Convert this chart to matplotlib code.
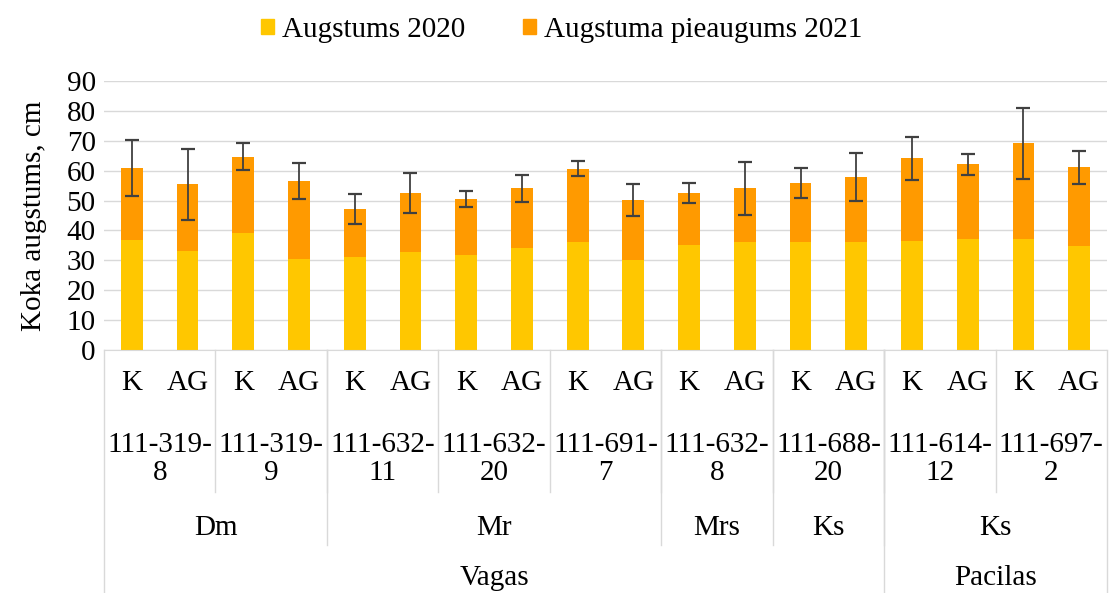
import numpy as np
import matplotlib.pyplot as plt
import matplotlib.transforms as mtransforms
from matplotlib.patches import Patch

# bar labels (level 1) and groupings
treatments = ["K", "AG"] * 9
clones = ["111-319-\n8", "111-319-\n9", "111-632-\n11", "111-632-\n20", "111-691-\n7",
          "111-632-\n8", "111-688-\n20", "111-614-\n12", "111-697-\n2"]
species = ["Dm", "Mr", "Mrs", "Ks", "Ks"]
species_size = [2, 3, 1, 1, 2]          # number of clones in each species group
sites = ["Vagas", "Pacilas"]
sites_size = [7, 2]                     # number of clones in each site

# values
growth_2020 = [36.8, 33.2, 39.2, 30.3, 31.0, 32.8, 31.8, 34.0, 36.2,
               30.1, 35.1, 36.2, 36.0, 36.2, 36.5, 37.3, 37.3, 34.8]
total_2021 = [60.8, 55.4, 64.7, 56.5, 47.2, 52.6, 50.6, 54.1, 60.6,
              50.2, 52.6, 54.1, 56.0, 58.0, 64.1, 62.1, 69.1, 61.1]
total_err = [9.3, 12.0, 4.6, 6.0, 5.0, 6.7, 2.6, 4.6, 2.5,
             5.4, 3.3, 8.8, 5.0, 8.0, 7.2, 3.5, 11.9, 5.5]
increment_2021 = list(np.array(total_2021) - np.array(growth_2020))

yellow = "#FFC700"
orange = "#FF9A00"
grid_c = "#D9D9D9"
font = "Liberation Serif"
fs = 21

fig = plt.figure(figsize=(11.12, 5.93), dpi=100)
ax = fig.add_axes([104 / 1112, 1 - 350 / 593, (1107 - 104) / 1112, (350 - 81) / 593])

x = np.arange(len(treatments))
ax.bar(x, growth_2020, width=0.39, color=yellow, zorder=2)
ax.bar(x, increment_2021, width=0.39, bottom=growth_2020, color=orange, zorder=2)
ax.errorbar(x, total_2021, yerr=total_err, fmt="none", ecolor="#404040",
            elinewidth=1.3, capsize=5, capthick=1.6, zorder=3)

ax.set_xlim(-0.5, len(treatments) - 0.5)
ax.set_ylim(0, 90)
ax.set_yticks(range(0, 91, 10))
ax.yaxis.grid(True, color=grid_c, lw=1)
ax.set_axisbelow(True)
for s in ["top", "right", "left"]:
    ax.spines[s].set_visible(False)
ax.spines["bottom"].set_color(grid_c)
ax.tick_params(axis="y", length=0, labelsize=fs, pad=6)
ax.tick_params(axis="x", length=0, labelbottom=False)
for lab in ax.get_yticklabels():
    lab.set_fontfamily(font)
ax.set_ylabel("Koka augstums, cm", fontsize=fs, fontfamily=font, labelpad=14)

# multi-level category axis
trans = mtransforms.blended_transform_factory(ax.transData, fig.transFigure)
def fy(p):
    return 1 - p / 593

for i, t in enumerate(treatments):
    ax.text(i, fy(383), t, transform=trans, ha="center", va="center",
            fontsize=fs, fontfamily=font)
for j, c in enumerate(clones):
    ax.text(2 * j + 0.5, fy(459), c, transform=trans, ha="center", va="center",
            fontsize=fs, fontfamily=font, linespacing=1.1)

def vline(xpos, ybottom):
    ax.plot([xpos, xpos], [fy(350), fy(ybottom)], transform=trans, color=grid_c,
            lw=1, clip_on=False)

for j in range(1, len(clones)):
    vline(2 * j - 0.5, 492)

start = 0
for name, n in zip(species, species_size):
    ax.text(2 * start + n - 0.5, fy(528), name, transform=trans, ha="center",
            va="center", fontsize=fs, fontfamily=font)
    if start > 0:
        vline(2 * start - 0.5, 545)
    start += n

start = 0
for name, n in zip(sites, sites_size):
    ax.text(2 * start + n - 0.5, fy(578), name, transform=trans, ha="center",
            va="center", fontsize=fs, fontfamily=font)
    vline(2 * start - 0.5, 593)
    start += n
vline(len(treatments) - 0.5, 593)

handles = [Patch(color=yellow, label="Augstums 2020"),
           Patch(color=orange, label="Augstuma pieaugums 2021")]
fig.legend(handles=handles, loc="center", bbox_to_anchor=(0.505, 1 - 30 / 593), ncol=2,
           frameon=False, prop={"family": font, "size": fs}, handlelength=0.45,
           handleheight=0.45, handletextpad=0.25, columnspacing=2.0)

fig.savefig("out.png", dpi=100)
